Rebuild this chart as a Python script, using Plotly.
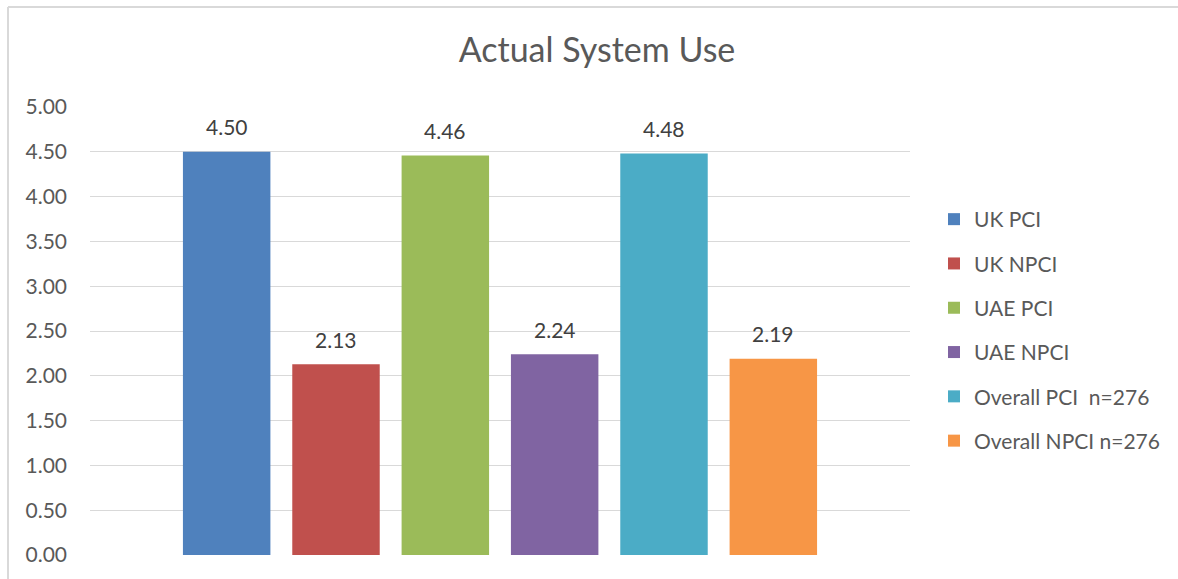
import plotly.graph_objects as go

# Chart data
category = ["Actual System Use"]
series_names = ["UK PCI", "UK NPCI", "UAE PCI", "UAE NPCI",
                "Overall PCI  n=276", "Overall NPCI n=276"]
series_values = [4.50, 2.13, 4.46, 2.24, 4.48, 2.19]
series_colors = ["#4F81BD", "#C0504D", "#9BBB59", "#8064A2", "#4BACC6", "#F79646"]
y_ticks = [0.0, 0.5, 1.0, 1.5, 2.0, 2.5, 3.0, 3.5, 4.0, 4.5, 5.0]

FONT = "Lato, Calibri, 'Open Sans', sans-serif"
FS = 21

fig = go.Figure()
for name, val, color in zip(series_names, series_values, series_colors):
    fig.add_trace(go.Bar(
        x=category, y=[val], name=name,
        legendgroup=name,
        marker=dict(color=color, line=dict(width=0)),
    ))

W, H = 1178, 579
L, R, T, B = 90, 268, 107, 24
pw, ph = W - L - R, H - T - B

def px_x(x):
    return (x - L) / pw

def px_y(y):
    return (H - B - y) / ph

fig.update_layout(
    width=W, height=H,
    margin=dict(l=L, r=R, t=T, b=B, autoexpand=False),
    paper_bgcolor="white", plot_bgcolor="white",
    font=dict(family=FONT, size=FS, color="#595959"),
    barmode="group", bargap=0.2, bargroupgap=0.2,
    title=dict(text="Actual System Use", x=597 / W,
               xanchor="center", y=1 - 50 / H, yanchor="middle",
               font=dict(family=FONT, size=34, color="#595959")),
    showlegend=True,
    legend=dict(x=px_x(934), xanchor="left", y=px_y(330), yanchor="middle",
                font=dict(family=FONT, size=FS, color="#595959"),
                tracegroupgap=14, itemwidth=30, bgcolor="rgba(0,0,0,0)"),
    xaxis=dict(showticklabels=False, showgrid=False, zeroline=False,
               showline=False, ticks=""),
    yaxis=dict(range=[0, 5], tickvals=y_ticks, tickformat=".2f",
               showgrid=True, gridcolor="#D9D9D9", gridwidth=1,
               zeroline=False, showline=False, ticks="",
               ticklabelstandoff=22,
               tickfont=dict(family=FONT, size=FS, color="#595959")),
    shapes=[
        dict(type="line", xref="paper", yref="paper",
             x0=px_x(8), x1=px_x(1178), y0=px_y(7), y1=px_y(7),
             line=dict(color="#D9D9D9", width=2)),
        dict(type="line", xref="paper", yref="paper",
             x0=px_x(8), x1=px_x(8), y0=px_y(7), y1=px_y(579),
             line=dict(color="#D9D9D9", width=2)),
    ],
)

# Value labels above each bar, positioned within its group slot
n = len(series_values)
slot = 0.8 / n
for i, val in enumerate(series_values):
    xc = -0.4 + slot * (i + 0.5)
    fig.add_annotation(
        x=xc, y=val, xref="x", yref="y", text=f"{val:.2f}",
        showarrow=False, yanchor="middle", yshift=25,
        font=dict(family=FONT, size=FS, color="#404040"),
    )

fig.write_html("out.html")
